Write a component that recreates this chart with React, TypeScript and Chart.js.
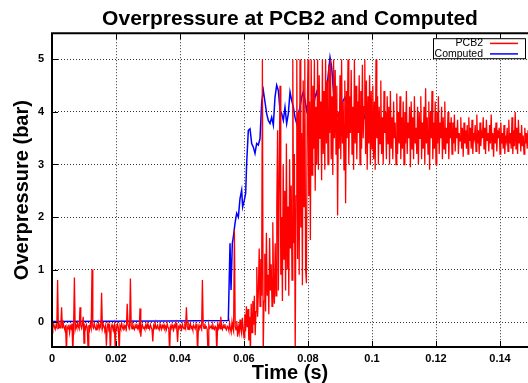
import React, { useEffect, useRef } from "react";
import { Chart, registerables } from "chart.js";

Chart.register(...registerables);

const TITLE = "Overpressure at PCB2 and Computed";
const X_TITLE = "Time (s)";
const Y_TITLE = "Overpressure (bar)";
const SERIES_LABELS = ["PCB2", "Computed"];
const SERIES_COLORS = ["#ff0000", "#0000ff"];

const X_TICKS = [0, 0.02, 0.04, 0.06, 0.08, 0.1, 0.12, 0.14];
const X_TICK_LABELS = ["0", "0.02", "0.04", "0.06", "0.08", "0.1", "0.12", "0.14"];
const Y_TICKS = [0, 1, 2, 3, 4, 5];
const Y_TICK_LABELS = ["0", "1", "2", "3", "4", "5"];
const X_RANGE = [0, 0.14875];
const Y_RANGE = [-0.475, 5.5];

// PCB2 measured signal, sampled every 0.25 ms from t = 0 (one row = 5 ms)
const PCB2_SAMPLE_STEP = 0.00025;
const PCB2_VALUES = [
  -0.05, -0.12, -0.03, -0.09, -0.14, -0.06, -0.1, 0.8, -0.13, -0.04, -0.11, -0.07, 0.28, -0.12, -0.02, -0.1, -0.15, -0.06, -0.6, -0.09,
  -0.13, -0.05, -0.2, -0.08, -0.12, -0.03, -0.6, -0.1, 0.85, -0.14, -0.06, -0.11, -0.02, -0.09, -0.13, 0.28, -0.07, -0.12, -0.04, 0.1,
  -0.4, -0.08, -0.13, -0.05, -0.1, -0.5, -0.06, -0.14, -0.03, -0.11, 1.0, -0.09, -0.12, -0.04, -0.1, -0.15, -0.07, -0.11, -0.02, -0.13,
  -0.06, -0.1, 0.56, -0.12, -0.04, -0.09, -0.14, -0.07, -0.45, -0.11, -0.03, -0.13, -0.08, -0.6, -0.1, -0.05, -0.12, -0.15, -0.06, -0.5,
  -0.09, -0.13, -0.04, -0.11, -0.6, -0.07, -0.12, -0.02, -0.1, -0.14, -0.06, -0.11, -0.08, -0.13, 0.35, -0.05, -0.1, -0.12, 0.83, -0.07,
  -0.13, -0.04, -0.1, -0.14, -0.06, -0.11, -0.03, -0.12, -0.08, -0.15, 0.26, -0.28, -0.09, -0.05, -0.12, -0.1, -0.14, -0.06, -0.11, -0.03,
  -0.12, -0.08, -0.13, -0.05, -0.1, -0.14, -0.37, -0.07, -0.11, -0.02, -0.13, -0.09, -0.06, -0.12, -0.15, -0.04, -0.1, -0.13, -0.07, -0.11,
  -0.05, -0.12, -0.09, -0.14, -0.03, -0.1, -0.13, -0.6, -0.08, -0.12, -0.05, -0.11, -0.15, -0.06, -0.1, -0.02, -0.13, -0.38, -0.09, -0.12,
  -0.06, -0.11, -0.14, -0.04, -0.1, -0.13, -0.07, -0.12, 0.28, -0.08, -0.14, -0.05, -0.11, -0.03, -0.12, -0.09, -0.15, -0.06, -0.1, -0.13,
  -0.04, -0.11, -0.6, -0.08, -0.13, -0.06, -0.1, -0.14, 0.8, -0.07, -0.12, -0.03, -0.11, -0.09, -0.14, -0.6, -0.05, -0.12, -0.1, -0.07,
  -0.13, -0.05, -0.11, -0.14, -0.08, -0.1, -0.6, -0.06, -0.12, -0.03, -0.13, 0.1, -0.09, -0.14, -0.06, -0.11, -0.04, -0.12, -0.15, -0.08,
  -0.1, -0.16, -0.02, -0.13, -0.2, 0.0, -0.12, -0.18, 1.75, -0.08, -0.15, 0.02, -0.28, -0.1, -0.2, 0.05, -0.14, -0.22, 0.08, -0.12,
  -0.3, 0.15, -0.18, 0.3, -0.1, 0.25, -0.35, 0.1, -0.6, 0.35, -0.2, 0.4, -0.05, 0.5, -0.25, 0.2, 1.05, 0.1, 0.6, 1.4,
  0.3, 1.2, 0.5, 5.0, -0.6, 0.4, 1.3, 0.2, 1.7, 0.5, 0.9, 0.15, 1.6, 0.6, 1.1, 0.3, 1.9, 0.7, 0.35, 1.5,
  0.5, 2.2, 3.65, 0.6, 2.8, 4.5, 0.9, 2.0, 0.4, 3.0, 1.2, 2.5, 0.6, 3.4, 1.0, 2.2, 0.5, 3.1, 1.4, 2.6,
  0.8, 5.0, 1.5, 3.2, -0.6, 2.4, 5.0, 1.2, 4.0, 0.9, 5.0, 1.8, 3.6, 0.7, 4.6, 2.2, 5.0, 1.0, 0.74, 3.9,
  5.0, 2.4, 4.2, 1.56, 5.0, 2.8, 4.5, 3.3, 5.0, 2.5, 4.1, 3.0, 5.0, 2.9, 4.7, 3.5, 4.2, 2.7, 5.0, 3.2,
  4.4, 2.9, 5.0, 3.4, 4.6, 3.0, 4.9, 3.6, 5.0, 3.1, 4.3, 2.8, 5.0, 3.5, 4.8, 3.2, 4.5, 2.03, 4.0, 3.3,
  4.7, 3.1, 5.0, 3.4, 4.2, 2.9, 4.6, 2.26, 4.4, 3.5, 5.0, 3.0, 4.3, 3.6, 4.8, 3.2, 4.1, 2.9, 5.0, 3.4,
  4.5, 3.1, 4.2, 3.6, 4.7, 3.0, 4.4, 3.3, 4.9, 3.5, 4.1, 5.0, 3.2, 4.6, 2.9, 4.3, 3.4, 4.7, 3.0, 4.4,
  3.3, 4.5, 3.1, 4.2, 2.9, 5.0, 3.5, 4.3, 3.0, 4.1, 3.4, 4.6, 3.2, 3.9, 3.0, 4.4, 3.6, 4.0, 3.1, 4.3,
  3.4, 4.1, 3.0, 4.4, 3.3, 3.9, 3.1, 4.2, 3.5, 3.8, 3.0, 4.35, 3.2, 4.0, 3.4, 4.3, 3.1, 3.9, 3.3, 4.2,
  3.0, 4.0, 3.4, 4.4, 3.2, 3.8, 3.5, 4.1, 2.95, 4.2, 3.3, 3.9, 3.1, 4.3, 3.4, 3.7, 3.2, 4.1, 3.0, 4.0,
  3.5, 4.3, 3.1, 3.8, 3.3, 4.1, 3.0, 4.45, 3.4, 3.9, 3.2, 4.2, 2.9, 4.0, 3.5, 4.4, 3.1, 3.8, 3.3, 4.2,
  3.0, 4.0, 3.4, 4.3, 3.2, 3.8, 3.5, 4.1, 3.1, 3.9, 3.3, 4.2, 3.2, 3.7, 3.4, 4.0, 3.1, 3.8, 3.5, 3.9,
  3.2, 3.8, 3.4, 3.95, 3.25, 3.7, 3.5, 3.85, 3.2, 3.6, 3.45, 3.9, 3.3, 3.7, 3.15, 3.8, 3.4, 3.65, 3.3, 3.75,
  3.2, 3.9, 3.45, 3.7, 3.3, 3.85, 3.2, 3.6, 3.5, 3.75, 3.25, 3.95, 3.4, 3.65, 3.2, 3.8, 3.35, 3.6, 3.5, 3.9,
  3.3, 3.7, 3.2, 3.85, 3.45, 3.6, 3.25, 3.75, 3.4, 3.95, 3.3, 3.6, 3.15, 3.7, 3.4, 3.8, 3.25, 3.65, 3.5, 3.7,
  3.2, 3.8, 3.4, 3.6, 3.3, 3.75, 3.2, 3.55, 3.45, 3.7, 3.25, 3.85, 3.4, 3.6, 3.3, 3.9, 3.2, 3.65, 3.35, 4.0,
  3.3, 3.7, 3.2, 3.85, 3.4, 3.6, 3.25, 3.75, 3.35, 3.55, 3.2, 3.7, 3.4, 3.6, 3.3, 3.65, 3.25, 3.7, 3.4, 3.55,
];

// Computed signal
const COMPUTED_TIME = [
  0, 0.036, 0.0551, 0.05563, 0.05594, 0.05635, 0.05667, 0.05719, 0.05771, 0.05823,
  0.05875, 0.05927, 0.05958, 0.0601, 0.06052, 0.06083, 0.06135, 0.06188, 0.0624, 0.06292,
  0.06344, 0.06396, 0.06448, 0.065, 0.06552, 0.06604, 0.06656, 0.06708, 0.0676, 0.06813,
  0.06865, 0.06917, 0.06969, 0.07021, 0.07073, 0.07125, 0.07177, 0.07229, 0.07281, 0.07333,
  0.07385, 0.07438, 0.0749, 0.07542, 0.07594, 0.07646, 0.07698, 0.0775, 0.07802, 0.07854,
  0.07906, 0.07958, 0.0801, 0.08063, 0.08115, 0.08167, 0.08219, 0.08271, 0.08323, 0.08375,
  0.08427, 0.08479, 0.08531, 0.08583, 0.08635, 0.08688, 0.0874, 0.08792, 0.08844, 0.08896,
  0.08948, 0.09, 0.09052, 0.09104, 0.09156, 0.09208, 0.0926, 0.09313, 0.09365, 0.09417,
  0.09469, 0.09521, 0.09573, 0.09625, 0.09677, 0.09729, 0.09781, 0.09833, 0.09885, 0.09938,
  0.1,
];
const COMPUTED_VALUES = [
  0.01, 0.02, 0.03, 1.5, 0.61, 1.5, 1.62, 1.88, 2.07, 2.0,
  2.35, 2.51, 2.19, 2.32, 2.45, 3.02, 3.65, 3.68, 3.4, 3.33,
  3.21, 3.4, 3.37, 3.49, 4.19, 4.41, 4.19, 3.97, 3.84, 3.78,
  3.9, 3.75, 4.28, 4.51, 4.41, 4.03, 3.97, 3.84, 4.09, 3.78,
  3.97, 4.38, 4.22, 4.09, 3.9, 3.78, 3.97, 4.09, 4.28, 4.38,
  4.22, 4.03, 4.19, 3.84, 4.03, 4.09, 4.28, 4.38, 4.22, 3.97,
  3.84, 4.0, 3.94, 4.38, 4.73, 5.04, 4.85, 4.41, 4.09, 3.9,
  3.97, 4.03, 4.16, 4.22, 4.28, 4.16, 4.0, 3.87, 3.97, 4.03,
  3.97, 4.19, 4.16, 4.09, 3.97, 4.0, 3.87, 3.84, 4.0, 4.22,
  4.25,
];

const FONT = "'Liberation Sans', Arial, Helvetica, sans-serif";

const frameAndLegend = {
  id: "frameAndLegend",
  afterDatasetsDraw(chart: any) {
    const ctx = chart.ctx as CanvasRenderingContext2D;
    const a = chart.chartArea;
    const xs = chart.scales.x;
    const ys = chart.scales.y;
    ctx.save();
    // inward tick marks
    ctx.strokeStyle = "#000";
    ctx.lineWidth = 1;
    ctx.setLineDash([]);
    ctx.beginPath();
    for (const v of X_TICKS) {
      const px = Math.round(xs.getPixelForValue(v)) + 0.5;
      ctx.moveTo(px, a.bottom);
      ctx.lineTo(px, a.bottom - 6);
      ctx.moveTo(px, a.top);
      ctx.lineTo(px, a.top + 6);
    }
    for (const v of Y_TICKS) {
      const py = Math.round(ys.getPixelForValue(v)) + 0.5;
      ctx.moveTo(a.left, py);
      ctx.lineTo(a.left + 6, py);
    }
    ctx.stroke();
    // border (left, bottom, top)
    ctx.lineWidth = 2;
    ctx.beginPath();
    ctx.moveTo(a.right + 2, a.top);
    ctx.lineTo(a.left, a.top);
    ctx.lineTo(a.left, a.bottom);
    ctx.lineTo(a.right + 2, a.bottom);
    ctx.stroke();

    // legend box
    const bw = 93;
    const bh = 21;
    const bx = a.right - 2 - bw;
    const by = a.top + 5;
    ctx.fillStyle = "#fff";
    ctx.fillRect(bx, by, bw, bh);
    ctx.lineWidth = 1;
    ctx.strokeRect(bx + 0.5, by + 0.5, bw - 1, bh - 1);
    ctx.font = `10.5px ${FONT}`;
    ctx.textAlign = "right";
    ctx.textBaseline = "middle";
    chart.data.datasets.forEach((ds: any, i: number) => {
      const cy = by + 5.2 + i * 10.5;
      ctx.fillStyle = "#000";
      ctx.fillText(ds.label, bx + 50, cy);
      ctx.strokeStyle = ds.borderColor;
      ctx.lineWidth = 1.5;
      ctx.beginPath();
      ctx.moveTo(bx + 57, cy);
      ctx.lineTo(bx + 85, cy);
      ctx.stroke();
    });
    ctx.restore();
  },
};

export default function App() {
  const canvasRef = useRef<HTMLCanvasElement | null>(null);

  useEffect(() => {
    const canvas = canvasRef.current;
    if (!canvas) return;
    const pcbData = PCB2_VALUES.map((v, i) => ({ x: i * PCB2_SAMPLE_STEP, y: v }));
    const compData = COMPUTED_TIME.map((t, i) => ({ x: t, y: COMPUTED_VALUES[i] }));

    const chart = new Chart(canvas, {
      type: "line",
      data: {
        datasets: [
          {
            label: SERIES_LABELS[0],
            data: pcbData,
            borderColor: SERIES_COLORS[0],
            backgroundColor: SERIES_COLORS[0],
            borderWidth: 1.3,
            pointRadius: 0,
            tension: 0,
            fill: false,
          },
          {
            label: SERIES_LABELS[1],
            data: compData,
            borderColor: SERIES_COLORS[1],
            backgroundColor: SERIES_COLORS[1],
            borderWidth: 1.5,
            pointRadius: 0,
            tension: 0,
            fill: false,
          },
        ],
      },
      options: {
        responsive: false,
        animation: false,
        events: [],
        layout: { padding: 0 },
        plugins: {
          legend: { display: false },
          tooltip: { enabled: false },
          title: {
            display: true,
            text: TITLE,
            fullSize: false,
            color: "#000",
            font: { family: FONT, size: 21, weight: "bold", lineHeight: 1.2 },
            padding: { top: 7, bottom: 1 },
          },
        },
        scales: {
          x: {
            type: "linear",
            min: X_RANGE[0],
            max: X_RANGE[1],
            afterFit: (s: any) => {
              s.height = 36;
            },
            afterBuildTicks: (s: any) => {
              s.ticks = X_TICKS.map((value) => ({ value }));
            },
            ticks: {
              autoSkip: false,
              maxRotation: 0,
              padding: 5,
              color: "#000",
              font: { family: FONT, size: 11, weight: "bold" },
              callback: (value: any) => {
                const idx = X_TICKS.findIndex((t) => Math.abs(t - Number(value)) < 1e-9);
                return idx >= 0 ? X_TICK_LABELS[idx] : "";
              },
            },
            grid: {
              display: true,
              drawTicks: false,
              color: "rgba(0,0,0,0.8)",
              lineWidth: 1,
            },
            border: { display: false, dash: [1, 2] },
            title: {
              display: true,
              text: X_TITLE,
              color: "#000",
              font: { family: FONT, size: 20, weight: "bold", lineHeight: 1 },
              padding: { top: 0, bottom: 0 },
            },
          },
          y: {
            type: "linear",
            min: Y_RANGE[0],
            max: Y_RANGE[1],
            afterFit: (s: any) => {
              s.width = 52;
            },
            afterBuildTicks: (s: any) => {
              s.ticks = Y_TICKS.map((value) => ({ value }));
            },
            ticks: {
              autoSkip: false,
              padding: 8,
              color: "#000",
              font: { family: FONT, size: 11, weight: "bold" },
              callback: (value: any) => {
                const idx = Y_TICKS.findIndex((t) => Math.abs(t - Number(value)) < 1e-9);
                return idx >= 0 ? Y_TICK_LABELS[idx] : "";
              },
            },
            grid: {
              display: true,
              drawTicks: false,
              color: "rgba(0,0,0,0.8)",
              lineWidth: 1,
            },
            border: { display: false, dash: [1, 2] },
            title: {
              display: true,
              text: Y_TITLE,
              color: "#000",
              font: { family: FONT, size: 20, weight: "bold", lineHeight: 1 },
              padding: { top: 12, bottom: 0 },
            },
          },
        },
      },
      plugins: [frameAndLegend],
    });
    return () => chart.destroy();
  }, []);

  return (
    <div style={{ position: "fixed", left: 0, top: 0, width: 528, height: 383, background: "#fff" }}>
      <canvas ref={canvasRef} width={528} height={383} style={{ display: "block" }} />
    </div>
  );
}
